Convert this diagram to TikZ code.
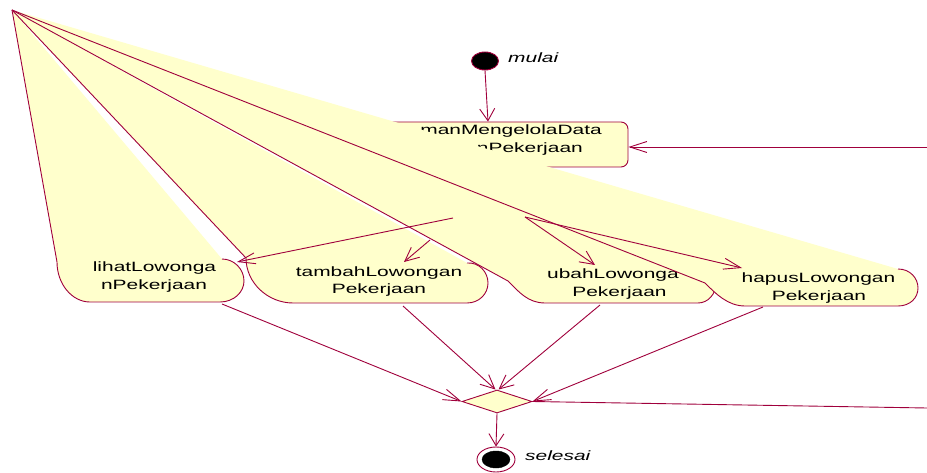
\documentclass[tikz,border=0pt]{standalone}
\usepackage{fontspec}
\usetikzlibrary{arrows.meta,shapes.geometric}
\newfontfamily\rosefont[FakeStretch=1.55]{Liberation Sans}
\definecolor{rosered}{RGB}{160,0,60}
\definecolor{roseyel}{RGB}{255,255,204}
\begin{document}
\begin{tikzpicture}[x=1pt,y=-1pt,
  lbl/.style={font=\rosefont\fontsize{13.5}{16}\selectfont, inner sep=0pt, text=black},
  ilbl/.style={font=\rosefont\itshape\fontsize{13.5}{16}\selectfont, inner sep=0pt, text=black},
  flow/.style={draw=rosered, line width=0.9pt},
  tiph/.style={-{Straight Barb[length=17pt,width=11pt]}},
  tipd/.style={-{Straight Barb[length=14pt,width=13pt]}},
  tipv/.style={-{Straight Barb[length=12pt,width=15pt]}},
  act/.style={fill=roseyel, draw=rosered, line width=0.9pt},
  box/.style={rectangle, rounded corners=7pt, fill=roseyel, draw=rosered, line width=0.9pt, minimum width=288pt, minimum height=45pt, inner sep=0pt},
  merge/.style={diamond, fill=roseyel, draw=rosered, line width=0.9pt, minimum width=70pt, minimum height=23pt, inner sep=0pt},
  startdot/.style={ellipse, fill=black, draw=rosered, line width=0.9pt, minimum width=27pt, minimum height=18pt, inner sep=0pt},
  endring/.style={ellipse, fill=white, draw=rosered, line width=0.9pt, minimum width=38pt, minimum height=25pt, inner sep=0pt},
  enddot/.style={ellipse, fill=black, draw=black, minimum width=28pt, minimum height=17pt, inner sep=0pt}
]
\useasboundingbox (0,0) rectangle (927,473);
\fill[white] (0,0) rectangle (927,473);

\coordinate (A) at (12,10);

% start
\node[startdot] (start) at (485,61) {};
\node[ilbl, anchor=base west] (mulai) at (508,63) {mulai};

% main activity (largely hidden)
\node[box] (main) at (484,144.5) {};
\node[lbl, anchor=base east] (main1) at (602,135) {manMengelolaData};
\node[lbl, anchor=base east] (main2) at (583,153) {nPekerjaan};

% stray mark
\draw[rosered, line width=0.6pt] (59,48) -- (62,48);

% lihat
\path[act] (A) -- (57,262) .. controls (57,284) and (72,302) .. (90,302) -- (220,302)
  .. controls (234,302) and (244,292) .. (244,281) .. controls (244,269) and (234,259) .. (222,259);
\node[lbl, anchor=base] (lihat1) at (154.5,272) {lihatLowonga};
\node[lbl, anchor=base] (lihat2) at (154,290) {nPekerjaan};

% tambah
\path[act] (A) -- (246,258) .. controls (246,283) and (268,303) .. (293,303) -- (467,303)
  .. controls (479,303) and (488,294) .. (488,283) .. controls (488,272) and (479,262) .. (467,263);
\node[lbl, anchor=base] (tambah1) at (379,277) {tambahLowongan};
\node[lbl, anchor=base] (tambah2) at (379,294) {Pekerjaan};

% ubah
\path[act] (A) -- (508,281) .. controls (519,292) and (528,303) .. (545,303) -- (698,303)
  .. controls (708,303) and (716,294) .. (716,283) .. controls (716,272) and (706,262) .. (695,262);
\node[lbl, anchor=base west] (ubah1) at (547,279) {ubahLowonga};
\node[lbl, anchor=base] (ubah2) at (619.5,297) {Pekerjaan};

% hapus
\path[act] (A) -- (705,283) .. controls (716,294) and (728,306) .. (745,306) -- (898,306)
  .. controls (910,306) and (918,298) .. (918,288) .. controls (918,278) and (910,269) .. (898,269);
\node[lbl, anchor=base] (hapus1) at (818.5,283) {hapusLowongan};
\node[lbl, anchor=base] (hapus2) at (819,301) {Pekerjaan};

% merge and end
\node[merge] (mg) at (497,401.5) {};
\node[endring] (endo) at (496,459.5) {};
\node[enddot] (endi) at (496,459.5) {};
\node[ilbl, anchor=base west] (selesai) at (525,460) {selesai};

% coordinates for connector ends
\coordinate (fL) at (453,218);
\coordinate (fT) at (430,240);
\coordinate (fR) at (525,217);
\coordinate (lihatIn) at (237,262);
\coordinate (tambahIn) at (404,262);
\coordinate (ubahIn) at (595,265);
\coordinate (hapusIn) at (742,268);
\coordinate (lihatOut) at (222,304);
\coordinate (tambahOut) at (403,306);
\coordinate (ubahOut) at (600,305);
\coordinate (hapusOut) at (763,307);
\coordinate (loopIn) at (927,147);
\coordinate (loopOut) at (927,408);

% connectors
\draw[flow, tipv] (start.south) -- ([xshift=4pt]main.north);
\draw[flow, tiph] (loopIn) -- (loopIn -| main.east);
\draw[flow, tiph] (fL) -- (lihatIn);
\draw[flow, tipd] (fT) -- (tambahIn);
\draw[flow, tipd] (fR) -- (ubahIn);
\draw[flow, tiph] (fR) -- (hapusIn);
\draw[flow, tiph] (lihatOut) -- (mg.west);
\draw[flow, tipd] (tambahOut) -- ([xshift=-1.5pt]mg.north);
\draw[flow, tipd] (ubahOut) -- ([xshift=1.5pt]mg.north);
\draw[flow, tiph] (hapusOut) -- (mg.east);
\draw[flow] (mg.east) -- (loopOut);
\draw[flow, tipv] (mg.south) -- (endo.north);
\end{tikzpicture}
\end{document}
